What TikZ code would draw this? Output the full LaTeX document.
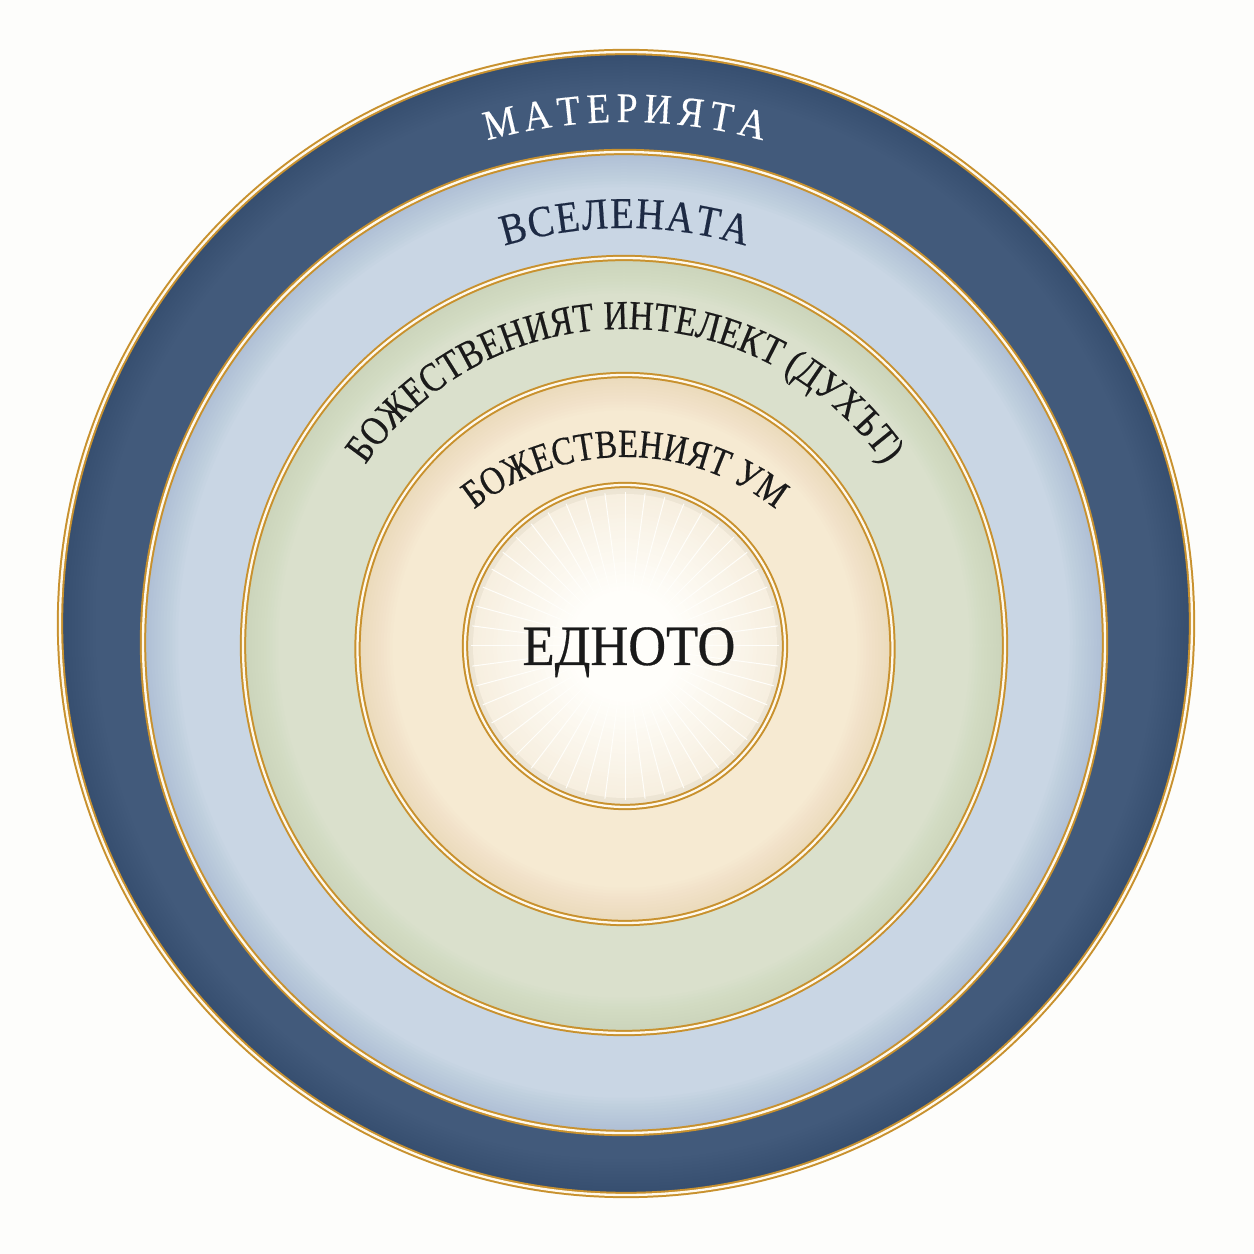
\documentclass[tikz,border=0pt]{standalone}
\usepackage{fontspec}
\setmainfont{Liberation Serif}
\newfontfamily\fmat[FakeStretch=0.9,FakeBold=0.3]{Liberation Serif}
\newfontfamily\fvsel[FakeStretch=0.88,FakeBold=0.4]{Liberation Serif}
\newfontfamily\fcondA[FakeStretch=0.83,FakeBold=0.4]{Liberation Serif}
\newfontfamily\fcondB[FakeStretch=0.82,FakeBold=0.4]{Liberation Serif}
\newfontfamily\fone[FakeStretch=0.92,FakeBold=0.5]{Liberation Serif}
\usetikzlibrary{decorations.text}

\definecolor{bgc}{HTML}{FDFDFB}
\definecolor{goldc}{HTML}{C8912E}
\definecolor{goldw}{HTML}{FFF9EC}
\definecolor{navyA}{HTML}{425A7B}
\definecolor{navyD}{HTML}{2A3F61}
\definecolor{lbA}{HTML}{C9D6E4}
\definecolor{lbD}{HTML}{93AAC7}
\definecolor{grA}{HTML}{DAE0CC}
\definecolor{grD}{HTML}{B9C4A6}
\definecolor{beA}{HTML}{F6EAD2}
\definecolor{beD}{HTML}{E0C79A}
\definecolor{inA}{HTML}{F7EFE0}
\definecolor{inD}{HTML}{EADBBE}
\definecolor{inW}{HTML}{FFFEFA}
\definecolor{navytext}{HTML}{1D2A44}
\definecolor{darktext}{HTML}{1A1A1A}

\tikzset{
  goldring/.style={draw=goldc, line width=2pt, double=goldw, double distance=2.3pt},
  ray/.style={draw=inW, line width=1pt},
  arctext/.style={decorate, decoration={text along path, text align=center, text color=#1}}
}

% a filled disk whose rim is softly darkened (#6 = opacity per layer)
\newcommand\banddisk[6]{%
  \begin{scope}
    \clip #1 ellipse [x radius=#2, y radius=#3];
    \fill[#4] #1 ellipse [x radius=#2, y radius=#3];
    \foreach \w in {70,64,...,4}
      \draw[#5, line width=\w pt, opacity=#6] #1 ellipse [x radius=#2, y radius=#3];
  \end{scope}}

% letters placed one by one along an arc (centre #2, radius #3, extra gap #4)
\newcommand\arcword[7]{%
  \begingroup #5%
  \gdef\awTot{0}%
  \foreach \l in {#7}{\pgfmathwidth{"\l"}\pgfmathsetmacro\awT{\awTot+\pgfmathresult+#4}\xdef\awTot{\awT}}%
  \pgfmathsetmacro\awS{-(\awTot-#4)/2}\xdef\awCum{\awS}%
  \foreach \l [count=\i] in {#7}{%
    \pgfmathwidth{"\l"}\let\awW\pgfmathresult
    \pgfmathsetmacro\awAng{90-deg((\awCum+\awW/2)/#3)}%
    \path (#2) ++(\awAng:#3) node[inner sep=0pt, anchor=base, rotate=\awAng-90, text=#6] (#1\i) {\l};
    \pgfmathsetmacro\awN{\awCum+\awW+#4}\xdef\awCum{\awN}%
  }%
  \endgroup}

\begin{document}
\begin{tikzpicture}[x=1pt,y=1pt]
\useasboundingbox (0,0) rectangle (1254,1254);
\fill[bgc] (0,0) rectangle (1254,1254);

% filled bands
\banddisk{(626,630.5)}{566}{571.5}{navyA}{navyD}{0.03}
\banddisk{(624,611.5)}{481}{490.5}{lbA}{lbD}{0.045}
\banddisk{(624,608.5)}{381}{387.5}{grA}{grD}{0.035}
\banddisk{(625,605)}{267.5}{274}{beA}{beD}{0.035}
\banddisk{(625,608)}{160}{161}{inA}{inD}{0.03}

% glow and rays in the central disk
\coordinate (c0) at (625,608);
\foreach \r [evaluate=\r as \t using {min(100,100*(152-\r)/95)}] in {152,148,...,12}
  \fill[inW!\t!inA] (c0) circle [radius=\r];
\foreach \a in {0,7.5,...,352.5}
  \draw[ray] (c0) ++(\a:50) -- ++(\a:104);

% gold rings
\draw[goldring] (626,630.5) ellipse [x radius=566, y radius=571.5];
\draw[goldring] (624,611.5) ellipse [x radius=481, y radius=490.5];
\draw[goldring] (624,608.5) ellipse [x radius=381, y radius=387.5];
\draw[goldring] (625,605) ellipse [x radius=267.5, y radius=274];
\draw[goldring] (625,608) ellipse [x radius=160, y radius=161];

% curved labels
\coordinate (tc) at (625,609);
\arcword{mat}{tc}{523}{6}{\fmat\fontsize{42}{50}\selectfont}{white}{М,А,Т,Е,Р,И,Я,Т,А}
\arcword{vsel}{tc}{417}{1.5}{\fvsel\fontsize{44}{52}\selectfont}{navytext}{В,С,Е,Л,Е,Н,А,Т,А}
\path[arctext=darktext, decoration={text={|\fcondA\fontsize{41}{48}\selectfont|БОЖЕСТВЕНИЯТ ИНТЕЛЕКТ (ДУХЪТ)}}]
  (tc) ++(180:316) arc[start angle=180, end angle=0, radius=316];
\coordinate (tb) at (625,554);
\path[arctext=darktext, decoration={text={|\fcondB\fontsize{40}{47}\selectfont|БОЖЕСТВЕНИЯТ УМ}}]
  (tb) ++(180:243) arc[start angle=180, end angle=0, radius=243];

% centre label
\node[anchor=base, text=darktext, inner sep=0pt, font=\fone\fontsize{57}{64}\selectfont] (one) at (629,589) {ЕДНОТО};
\end{tikzpicture}
\end{document}
